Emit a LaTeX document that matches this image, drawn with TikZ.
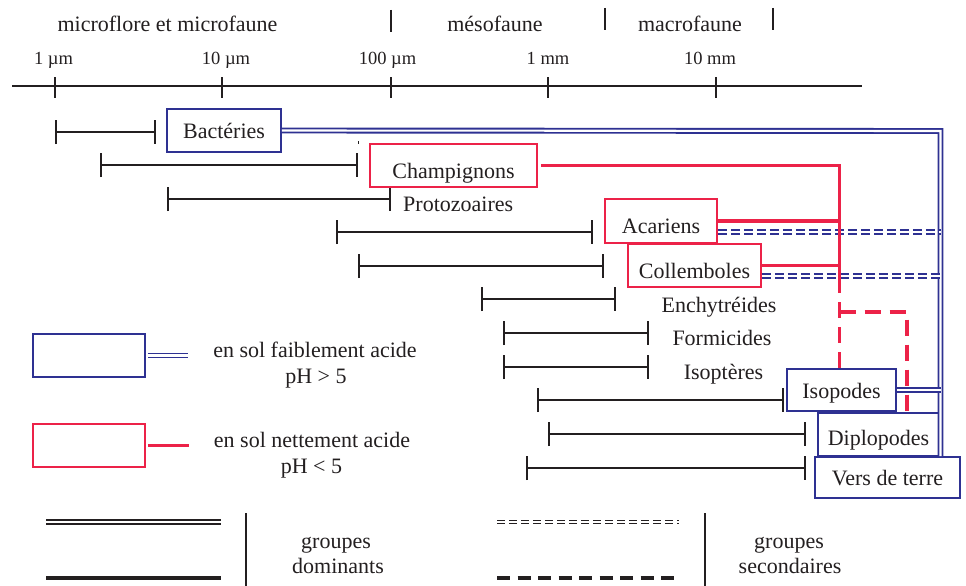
\documentclass[tikz,border=0pt]{standalone}
\usepackage{fontspec}
\setmainfont{Liberation Serif}
\usetikzlibrary{arrows.meta}
\definecolor{lblue}{RGB}{46,49,146}
\definecolor{lred}{RGB}{236,34,72}
\definecolor{ink}{RGB}{35,31,32}
\tikzset{
  txt/.style={inner sep=0pt, text=ink, font=\fontsize{22}{26}\selectfont},
  smalltxt/.style={inner sep=0pt, text=ink, font=\fontsize{18.5}{22}\selectfont},
  bbox/.style={draw=lblue, line width=1.9pt, inner sep=0pt, text=ink, text depth=0pt, font=\fontsize{22}{26}\selectfont},
  rbox/.style={draw=lred, line width=1.9pt, inner sep=0pt, text=ink, text depth=0pt, font=\fontsize{22}{26}\selectfont},
  rng/.style={draw=ink, line width=1.7pt, arrows={Bar[width=24pt]-Bar[width=24pt]}},
  bdouble/.style={draw=lblue, double=white, line width=1.9pt, double distance=2.1pt},
  bdash/.style={draw=lblue, double=white, line width=1.9pt, double distance=1.7pt, dash pattern=on 9pt off 4pt},
  rsolid/.style={draw=lred, line width=3.6pt},
  rdash/.style={draw=lred, line width=3.6pt, dash pattern=on 16pt off 9pt},
  kdouble/.style={draw=ink, double=white, line width=1.8pt, double distance=2.1pt},
  kdash/.style={draw=ink, double=white, line width=1.7pt, double distance=1.5pt, dash pattern=on 8pt off 4pt},
  thin/.style={draw=ink, line width=1.6pt}
}
\begin{document}
\begin{tikzpicture}[x=1pt,y=-1pt]
\path[use as bounding box, fill=white] (0,0) rectangle (966,586);

% top labels
\node[txt, anchor=base] (tmicro) at (167.5,32) {microflore et microfaune};
\node[txt, anchor=base] (tmeso) at (495,32) {mésofaune};
\node[txt, anchor=base] (tmacro) at (690,32) {macrofaune};
\draw[thin] (391,10) -- (391,32);
\draw[thin] (605,8) -- (605,30);
\draw[thin] (773,8) -- (773,30);

% scale
\node[smalltxt, anchor=base] (s1) at (53.5,65) {1 µm};
\node[smalltxt, anchor=base] (s10) at (226,65) {10 µm};
\node[smalltxt, anchor=base] (s100) at (387.5,65) {100 µm};
\node[smalltxt, anchor=base] (s1mm) at (548,65) {1 mm};
\node[smalltxt, anchor=base] (s10mm) at (710,65) {10 mm};
\draw[thin] (12,86) -- (862,86);
\draw[thin] (55,77) -- (55,98);
\draw[draw=ink, line width=2.6pt] (222,77) -- (222,98);
\draw[thin] (391,77) -- (391,98);
\draw[thin] (548,77) -- (548,98);
\draw[thin] (716,77) -- (716,98);

% size ranges
\draw[rng] (55,132) -- (156,132);
\draw[rng] (100,165) -- (358,165);
\fill[ink] (357.5,141) rectangle (359,143.5);
\draw[rng] (167,199) -- (391,199);
\draw[rng] (336,232) -- (593,232);
\draw[rng] (358,266) -- (604,266);
\draw[rng] (481,299) -- (616,299);
\draw[rng] (503,333) -- (649,333);
\draw[rng] (503,367) -- (649,367);
\draw[rng] (537,400) -- (784,400);
\draw[rng] (548,434) -- (806,434);
\draw[rng] (526,468) -- (806,468);

% group boxes
\node[bbox, minimum width=114pt, minimum height=43pt, text height=15pt] (bact) at (224,130.5) {Bactéries};
\node[rbox, minimum width=167pt, minimum height=43pt, text height=25pt] (champ) at (453.5,165.5) {Champignons};
\node[txt, anchor=base west] (proto) at (403,211) {Protozoaires};
\node[rbox, minimum width=112pt, minimum height=44pt, text height=24pt] (acar) at (661,221) {Acariens\hspace{12pt}};
\node[rbox, minimum width=133pt, minimum height=43pt, text height=25pt] (coll) at (694.5,265.5) {Collemboles};
\node[txt, anchor=base] (ench) at (719,312) {Enchytréides};
\node[txt, anchor=base] (formi) at (722,345) {Formicides};
\node[txt, anchor=base] (isopt) at (723.5,379) {Isoptères};
\node[bbox, minimum width=109pt, minimum height=42pt, text height=16pt] (isop) at (841.5,390) {Isopodes};
\node[bbox, minimum width=121pt, minimum height=43pt, text height=21pt] (dipl) at (878.5,434.5) {Diplopodes};
\node[bbox, minimum width=145pt, minimum height=41pt, text height=15pt] (vers) at (887.5,477.5) {Vers de terre};

% blue connectors
\coordinate (jb) at (940.5,131);
\draw[bdouble] (bact.east) -- (jb) -- (jb |- vers.north);
\draw[bdouble] (isop.east) -- (isop.east -| jb);
\draw[bdash] ([yshift=-11pt]acar.east) -- ([yshift=-11pt]acar.east -| jb);
\draw[bdash] ([yshift=-10.5pt]coll.east) -- ([yshift=-10.5pt]coll.east -| jb);

% red connectors
\coordinate (jr) at (839.5,165.5);
\coordinate (jr2) at (839.5,293);
\coordinate (jd) at (907,312);
\draw[rsolid] ([xshift=3pt]champ.east) -- (jr) -- (jr2);
\draw[rsolid] (acar.east) -- (acar.east -| jr);
\draw[rsolid] (coll.east) -- (coll.east -| jr);
\draw[rdash, dash phase=16pt] (jr2) -- (jr2 |- isop.north);
\draw[rdash] (jr |- jd) -- (jd) -- (jd |- dipl.north);

% legend: acidity
\node[bbox, minimum width=112pt, minimum height=43pt] (lb) at (89,355.5) {};
\coordinate (lbe) at (188,355.5);
\draw[bdouble] ([xshift=2pt]lb.east) -- (lbe);
\node[txt, anchor=base] (lbt1) at (315,357) {en sol faiblement acide};
\node[txt, anchor=base] (lbt2) at (316,383) {pH > 5};
\node[rbox, minimum width=112pt, minimum height=43pt] (lr) at (89,445.5) {};
\coordinate (lre) at (189,445.5);
\draw[rsolid] ([xshift=2pt]lr.east) -- (lre);
\node[txt, anchor=base] (lrt1) at (312,447) {en sol nettement acide};
\node[txt, anchor=base] (lrt2) at (311.5,473) {pH < 5};

% legend: line styles
\draw[kdouble] (46,522) -- (221,522);
\draw[draw=ink, line width=4.5pt] (46,578) -- (221,578);
\draw[thin] (246,513) -- (246,586);
\node[txt, anchor=base] (gd1) at (336,548) {groupes};
\node[txt, anchor=base] (gd2) at (338,573) {dominants};
\draw[kdash] (497,522) -- (679,522);
\draw[draw=ink, line width=4.5pt, dash pattern=on 13pt off 7.5pt] (497,578) -- (680,578);
\draw[thin] (705,513) -- (705,586);
\node[txt, anchor=base] (gs1) at (789,548) {groupes};
\node[txt, anchor=base] (gs2) at (790,573) {secondaires};
\end{tikzpicture}
\end{document}
